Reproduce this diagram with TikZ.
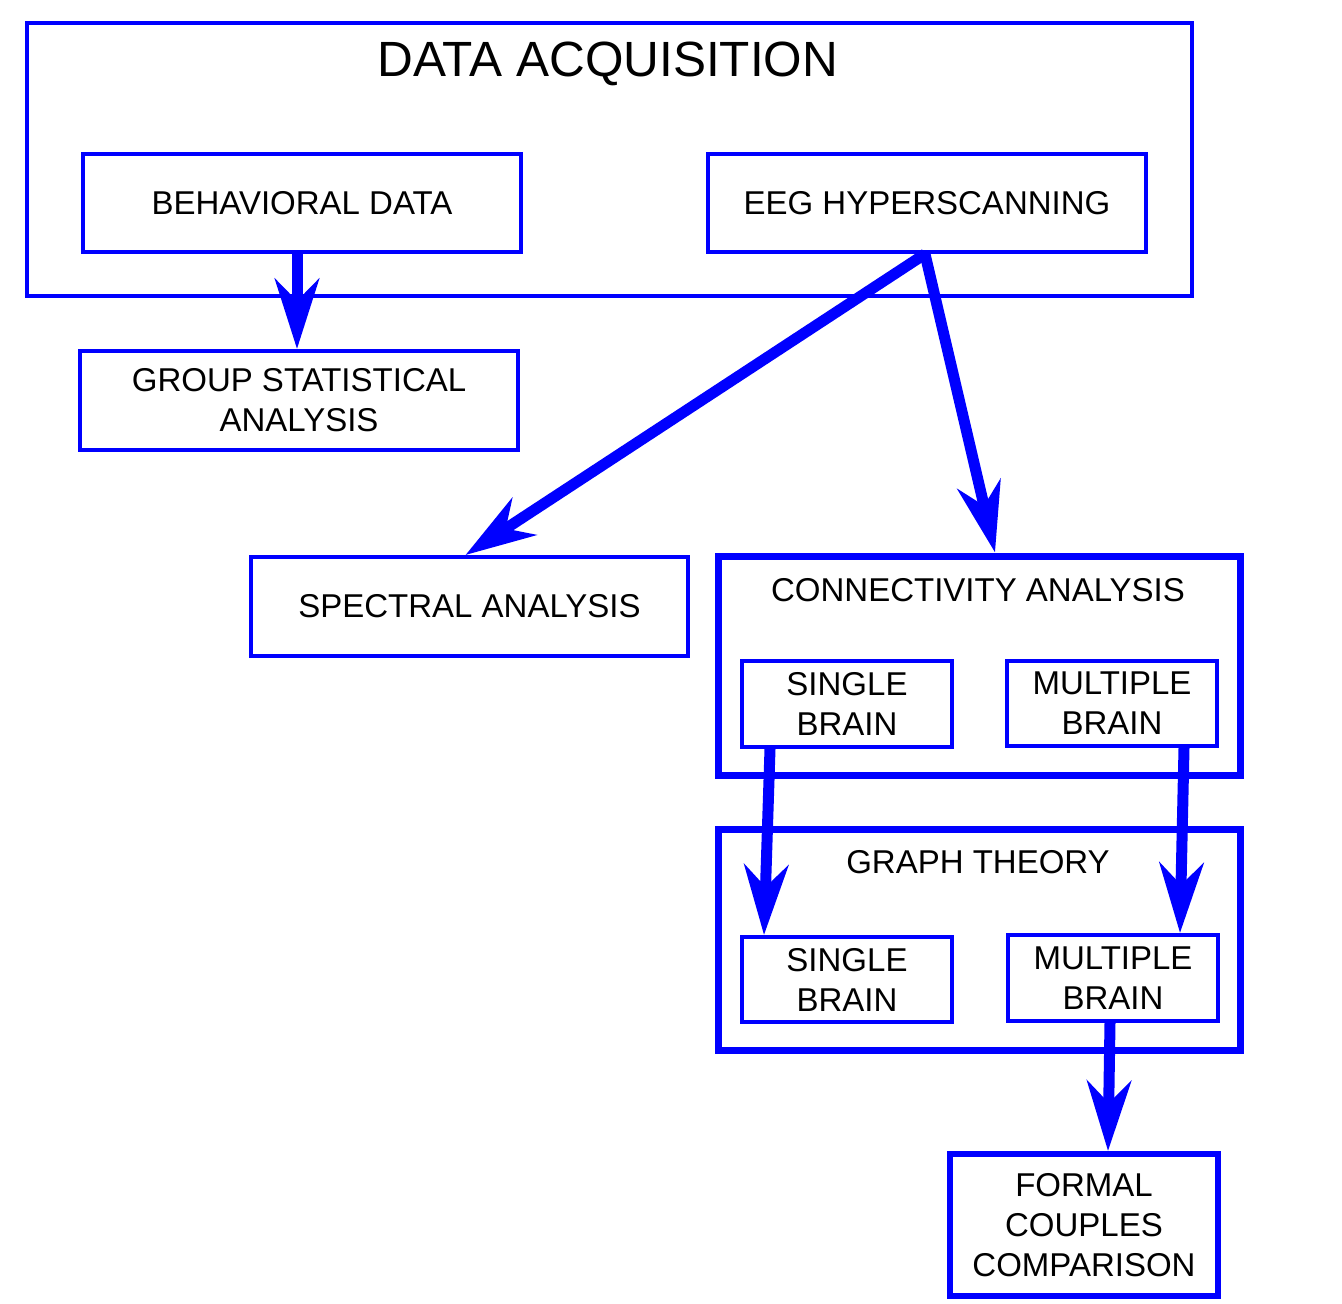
\documentclass[tikz,border=0pt]{standalone}
\usepackage{fontspec}
\setmainfont{Liberation Sans}
\usetikzlibrary{arrows.meta}
\begin{document}
\begin{tikzpicture}[x=1pt,y=-1pt,
  box/.style={draw=blue, line width=4pt, inner sep=0pt, align=center,
    font=\fontsize{33}{40}\selectfont},
  thickbox/.style={box, line width=7pt},
  lbl/.style={inner sep=0pt, align=center, font=\fontsize{33}{40}\selectfont},
  arr/.style={draw=blue, line width=11pt,
    -{Stealth[length=70pt, width=44pt, inset=22pt]}}]
\useasboundingbox (0,0) rectangle (1342,1304);
\fill[white] (0,0) rectangle (1342,1304);
% boxes
\node[box, minimum width=1165pt, minimum height=273pt] (acq) at (609.5,159.5) {};
\node[lbl, font=\fontsize{49.5}{56}\selectfont] (acqt) at (608,64) {DATA ACQUISITION};
\node[box, minimum width=438pt, minimum height=98pt] (beh) at (302,203) {BEHAVIORAL DATA};
\node[box, minimum width=438pt, minimum height=98pt] (eeg) at (927,203) {EEG HYPERSCANNING};
\node[box, minimum width=438pt, minimum height=99pt] (grp) at (299,400.5) {GROUP STATISTICAL\\ANALYSIS};
\node[box, minimum width=437pt, minimum height=99pt] (spec) at (469.5,606.5) {SPECTRAL ANALYSIS};
\node[thickbox, minimum width=522pt, minimum height=219pt] (conn) at (979,665.5) {};
\node[lbl] (connt) at (978,590) {CONNECTIVITY ANALYSIS};
\node[box, minimum width=210pt, minimum height=86pt] (csb) at (847,704) {SINGLE\\BRAIN};
\node[box, minimum width=210pt, minimum height=85pt] (cmb) at (1112,703.5) {MULTIPLE\\BRAIN};
\node[thickbox, minimum width=522pt, minimum height=221pt] (graph) at (979,939.5) {};
\node[lbl] (grapht) at (978,862) {GRAPH THEORY};
\node[box, minimum width=210pt, minimum height=85pt] (gsb) at (847,979.5) {SINGLE\\BRAIN};
\node[box, minimum width=210pt, minimum height=86pt] (gmb) at (1113,978) {MULTIPLE\\BRAIN};
\node[box, line width=6pt, minimum width=268pt, minimum height=142pt] (formal) at (1084,1225) {FORMAL\\COUPLES\\COMPARISON};
% arrows
\draw[arr] ([xshift=-5pt]beh.south) -- ([xshift=-2pt]grp.north);
\draw[arr] ([xshift=-2pt]eeg.south) -- ([xshift=-4pt]spec.north);
\draw[arr] ([xshift=-2pt]eeg.south) -- ([xshift=16pt]conn.north);
\draw[arr] ([xshift=-77pt]csb.south) -- ([xshift=-83pt]gsb.north);
\draw[arr] ([xshift=72pt]cmb.south) -- ([xshift=67pt]gmb.north);
\draw[arr] ([xshift=-3pt]gmb.south) -- ([xshift=24pt]formal.north);
\end{tikzpicture}
\end{document}
